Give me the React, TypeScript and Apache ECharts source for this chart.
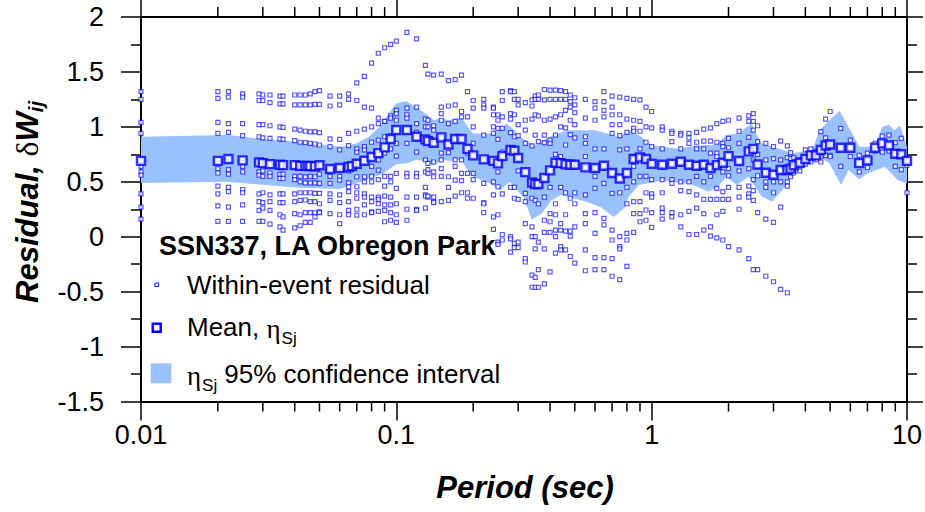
import React, { useEffect, useRef } from 'react';
import * as echarts from 'echarts';

// ---------------- data ----------------
const xTickLabels = ['0.01', '0.1', '1', '10'];
const minorTickPeriods = [0.02, 0.03, 0.04, 0.05, 0.06, 0.07, 0.08, 0.09, 0.2, 0.3, 0.4, 0.5, 0.6, 0.7, 0.8, 0.9, 2, 3, 4, 5, 6, 7, 8, 9];

const meanPeriods = [0.01, 0.02, 0.022, 0.025, 0.029, 0.03, 0.032, 0.035, 0.036, 0.04, 0.042, 0.044, 0.045, 0.046, 0.048, 0.05, 0.055, 0.06, 0.065, 0.067, 0.07, 0.075, 0.08, 0.085, 0.09, 0.095, 0.1, 0.11, 0.12, 0.13, 0.133, 0.14, 0.15, 0.16, 0.17, 0.18, 0.19, 0.2, 0.22, 0.24, 0.25, 0.26, 0.28, 0.29, 0.3, 0.32, 0.34, 0.35, 0.36, 0.38, 0.4, 0.42, 0.44, 0.46, 0.48, 0.5, 0.55, 0.6, 0.65, 0.7, 0.75, 0.8, 0.85, 0.9, 0.95, 1, 1.1, 1.2, 1.3, 1.4, 1.5, 1.6, 1.7, 1.8, 1.9, 2, 2.2, 2.4, 2.5, 2.6, 2.8, 3, 3.2, 3.4, 3.5, 3.6, 3.8, 4, 4.2, 4.4, 4.6, 4.8, 5, 5.5, 6, 6.5, 7, 7.5, 8, 8.5, 9, 9.5, 10];
const meanValues = [0.69, 0.69, 0.707, 0.695, 0.677, 0.67, 0.661, 0.655, 0.652, 0.652, 0.645, 0.645, 0.645, 0.643, 0.64, 0.65, 0.617, 0.625, 0.634, 0.643, 0.664, 0.691, 0.725, 0.761, 0.813, 0.889, 0.971, 0.971, 0.91, 0.886, 0.87, 0.855, 0.904, 0.84, 0.89, 0.89, 0.8, 0.74, 0.704, 0.69, 0.668, 0.734, 0.789, 0.782, 0.716, 0.588, 0.494, 0.479, 0.48, 0.534, 0.604, 0.673, 0.67, 0.66, 0.655, 0.655, 0.631, 0.625, 0.646, 0.58, 0.53, 0.58, 0.707, 0.722, 0.707, 0.664, 0.655, 0.664, 0.682, 0.655, 0.646, 0.655, 0.625, 0.652, 0.673, 0.734, 0.689, 0.777, 0.8, 0.658, 0.582, 0.564, 0.607, 0.607, 0.62, 0.65, 0.673, 0.707, 0.74, 0.74, 0.79, 0.83, 0.84, 0.81, 0.81, 0.67, 0.695, 0.81, 0.85, 0.83, 0.755, 0.75, 0.69];

const bandUpperPeriods = [0.01, 0.022, 0.03, 0.042, 0.06, 0.065, 0.07, 0.078, 0.085, 0.0995, 0.109, 0.119, 0.134, 0.14, 0.15, 0.16, 0.175, 0.18, 0.19, 0.2, 0.233, 0.255, 0.27, 0.29, 0.3, 0.33, 0.35, 0.38, 0.405, 0.47, 0.6, 0.74, 0.83, 0.91, 1.0, 1.27, 1.5, 1.72, 1.82, 1.96, 2.18, 2.46, 2.54, 2.7, 2.96, 3.15, 3.56, 4.27, 4.53, 4.97, 5.45, 6.0, 6.5, 7.5, 8.0, 8.5, 8.9, 9.4, 10];
const bandUpper = [0.91, 0.925, 0.89, 0.864, 0.82, 0.83, 0.85, 0.91, 0.99, 1.21, 1.235, 1.18, 1.1, 1.06, 1.08, 1.06, 1.08, 1.09, 1.0, 0.94, 0.94, 0.97, 1.03, 0.97, 0.92, 0.865, 0.83, 0.88, 0.92, 0.97, 0.97, 0.91, 0.97, 0.91, 0.83, 0.8, 0.83, 0.835, 0.85, 0.926, 0.94, 1.03, 0.956, 0.85, 0.82, 0.8, 0.76, 0.79, 0.97, 1.06, 1.147, 0.97, 0.82, 0.82, 1.0, 1.02, 0.97, 1.01, 0.82];
const bandLowerPeriods = [0.01, 0.0216, 0.0405, 0.06, 0.073, 0.088, 0.1, 0.11, 0.12, 0.13, 0.14, 0.15, 0.165, 0.18, 0.19, 0.2, 0.233, 0.255, 0.278, 0.315, 0.339, 0.37, 0.405, 0.44, 0.55, 0.63, 0.71, 0.79, 0.81, 0.89, 1.09, 1.42, 1.67, 1.82, 1.96, 2.15, 2.4, 2.54, 2.7, 2.96, 3.25, 3.56, 4.0, 4.53, 4.97, 5.52, 5.9, 6.5, 7.0, 8.2, 9.2, 10];
const bandLower = [0.49, 0.5, 0.449, 0.434, 0.5, 0.57, 0.66, 0.668, 0.7, 0.685, 0.65, 0.7, 0.69, 0.7, 0.607, 0.545, 0.485, 0.424, 0.5, 0.36, 0.157, 0.21, 0.333, 0.38, 0.32, 0.27, 0.18, 0.27, 0.36, 0.47, 0.51, 0.48, 0.41, 0.455, 0.546, 0.47, 0.546, 0.455, 0.364, 0.32, 0.425, 0.546, 0.637, 0.728, 0.667, 0.47, 0.607, 0.522, 0.576, 0.637, 0.516, 0.485];

const scatterPeriods = [0.01, 0.02, 0.022, 0.025, 0.029, 0.03, 0.032, 0.035, 0.036, 0.04, 0.042, 0.044, 0.046, 0.048, 0.05, 0.055, 0.06, 0.065, 0.07, 0.075, 0.08, 0.085, 0.09, 0.095, 0.1, 0.11, 0.12, 0.13, 0.133, 0.14, 0.15, 0.16, 0.17, 0.18, 0.19, 0.2, 0.22, 0.24, 0.25, 0.26, 0.28, 0.29, 0.3, 0.32, 0.34, 0.35, 0.36, 0.38, 0.4, 0.42, 0.44, 0.46, 0.48, 0.5, 0.55, 0.6, 0.65, 0.7, 0.75, 0.8, 0.85, 0.9, 0.95, 1, 1.1, 1.2, 1.3, 1.4, 1.5, 1.6, 1.7, 1.8, 1.9, 2, 2.2, 2.4, 2.5, 2.6, 2.8, 3, 3.2, 3.4, 3.5, 3.6, 3.8, 4, 4.2, 4.4, 4.6, 4.8, 5, 5.5, 6, 6.5, 7, 7.5, 8, 8.5, 9, 9.5, 10];
const residuals: number[][] = [
  [1.32, 1.25, 1.04, 0.94, 0.69, 0.64, 0.59, 0.56, 0.39, 0.27, 0.16],
  [1.32, 1.26, 1.04, 0.94, 0.7, 0.62, 0.58, 0.46, 0.39, 0.28, 0.14],
  [1.32, 1.27, 1.03, 0.95, 0.72, 0.61, 0.57, 0.45, 0.41, 0.27, 0.14],
  [1.3, 1.27, 1.03, 0.92, 0.71, 0.64, 0.59, 0.43, 0.4, 0.29, 0.14],
  [1.3, 1.24, 1.02, 0.91, 0.68, 0.59, 0.56, 0.39, 0.32, 0.24, 0.14],
  [1.29, 1.24, 1.02, 0.9, 0.67, 0.6, 0.55, 0.4, 0.31, 0.26, 0.14],
  [1.29, 1.22, 1.01, 0.895, 0.66, 0.58, 0.55, 0.38, 0.32, 0.24, 0.115],
  [1.28, 1.21, 1.0, 0.89, 0.66, 0.57, 0.53, 0.39, 0.31, 0.2, 0.09],
  [1.28, 1.21, 0.995, 0.886, 0.655, 0.57, 0.53, 0.39, 0.31, 0.18, 0.06],
  [1.29, 1.2, 0.98, 0.874, 0.65, 0.55, 0.52, 0.39, 0.32, 0.21, 0.08],
  [1.29, 1.2, 0.97, 0.86, 0.645, 0.55, 0.5, 0.4, 0.33, 0.2, 0.1],
  [1.29, 1.2, 0.96, 0.856, 0.645, 0.545, 0.49, 0.4, 0.334, 0.22, 0.13],
  [1.3, 1.2, 0.955, 0.85, 0.64, 0.55, 0.49, 0.4, 0.32, 0.22, 0.13],
  [1.32, 1.205, 0.955, 0.844, 0.64, 0.546, 0.49, 0.394, 0.32, 0.218, 0.18],
  [1.33, 1.205, 0.947, 0.835, 0.65, 0.57, 0.485, 0.394, 0.3, 0.227, 0.22],
  [1.28, 1.19, 0.89, 0.82, 0.62, 0.55, 0.485, 0.39, 0.33, 0.21],
  [1.28, 1.2, 0.886, 0.79, 0.63, 0.55, 0.516, 0.38, 0.31, 0.2, 0.12],
  [1.3, 1.25, 0.94, 0.83, 0.6, 0.49, 0.455, 0.41, 0.32, 0.24, 0.2],
  [1.4, 1.24, 0.96, 0.8, 0.77, 0.546, 0.455, 0.4, 0.35, 0.25, 0.197],
  [1.46, 1.18, 0.98, 0.82, 0.79, 0.546, 0.5, 0.39, 0.36, 0.29, 0.2],
  [1.58, 1.17, 1.0, 0.86, 0.64, 0.55, 0.5, 0.36, 0.32, 0.227, 0.22],
  [1.67, 1.08, 1.03, 0.88, 0.7, 0.607, 0.52, 0.36, 0.34, 0.3, 0.23],
  [1.72, 1.05, 1.05, 0.91, 0.76, 0.55, 0.46, 0.37, 0.29, 0.24, 0.136],
  [1.75, 1.1, 1.08, 0.92, 0.8, 0.55, 0.5, 0.36, 0.29, 0.22, 0.15],
  [1.78, 1.15, 1.12, 1.06, 0.85, 0.734, 0.577, 0.44, 0.3, 0.2, 0.13],
  [1.86, 1.17, 1.11, 1.08, 0.85, 0.577, 0.546, 0.36, 0.25, 0.15],
  [1.8, 1.18, 1.03, 0.95, 0.77, 0.577, 0.546, 0.36, 0.248, 0.24],
  [1.56, 1.07, 1.0, 0.9, 0.7, 0.59, 0.45, 0.38, 0.37, 0.26],
  [1.48, 1.06, 1.0, 0.88, 0.667, 0.61, 0.577, 0.36, 0.37],
  [1.47, 1.01, 0.97, 0.85, 0.68, 0.59, 0.546, 0.36, 0.32, 0.31],
  [1.48, 1.18, 1.12, 1.06, 0.9, 0.76, 0.7, 0.62, 0.55, 0.32],
  [1.42, 1.19, 1.03, 0.84, 0.765, 0.546, 0.45, 0.33],
  [1.43, 1.2, 1.05, 0.89, 0.7, 0.64, 0.516, 0.37],
  [1.47, 1.14, 1.09, 0.89, 0.7, 0.577, 0.51, 0.4],
  [1.32, 1.09, 0.8, 0.76, 0.577, 0.4, 0.35],
  [1.24, 1.17, 1.0, 0.85, 0.74, 0.577, 0.52, 0.35],
  [1.25, 1.2, 1.17, 0.925, 0.7, 0.485, 0.31, 0.3, 0.22],
  [1.18, 1.17, 1.11, 1.0, 0.94, 0.69, 0.5, 0.38, 0.18, 0.066],
  [1.11, 1.06, 0.986, 0.886, 0.668, 0.59, 0.455, 0.2, -0.05, -0.07],
  [1.32, 1.24, 1.09, 0.986, 0.77, 0.734, 0.39, 0.02, -0.03],
  [1.33, 1.32, 1.12, 1.07, 0.947, 0.789, 0.45, 0.0, -0.02, -0.14],
  [1.32, 1.25, 1.11, 0.91, 0.782, 0.45, 0.35, -0.06, -0.1],
  [1.25, 1.2, 1.02, 0.92, 0.716, 0.6, 0.34, -0.05, -0.1],
  [1.22, 1.06, 0.97, 0.85, 0.588, 0.394, 0.32, 0.12, -0.2, -0.23],
  [1.245, 1.19, 1.07, 0.826, 0.494, 0.35, 0.09, 0.0, -0.35, -0.46],
  [1.28, 1.25, 1.11, 0.925, 0.479, 0.33, 0.0, -0.11, -0.37, -0.46],
  [1.29, 1.25, 1.1, 0.865, 0.48, 0.3, -0.05, -0.3, -0.46],
  [1.34, 1.245, 1.06, 0.925, 0.856, 0.534, 0.36, 0.15, 0.04, -0.11, -0.43],
  [1.335, 1.25, 1.07, 0.88, 0.85, 0.604, 0.45, 0.21, 0.136, 0.04, -0.32],
  [1.335, 1.25, 1.09, 0.925, 0.75, 0.673, 0.3, 0.2, 0.06, 0.0, -0.15],
  [1.33, 1.25, 1.11, 1.0, 0.73, 0.67, 0.45, 0.12, 0.06, -0.09, -0.12],
  [1.32, 1.25, 1.15, 0.99, 0.835, 0.66, 0.4, 0.2, 0.05, -0.12],
  [1.29, 1.23, 1.18, 1.06, 0.93, 0.655, 0.35, 0.05, 0.005, -0.18],
  [1.265, 1.2, 1.13, 1.02, 0.9, 0.655, 0.4, 0.3, 0.09, -0.24],
  [1.25, 1.08, 0.91, 0.85, 0.73, 0.631, 0.38, 0.21, 0.12, -0.12, -0.31],
  [1.23, 1.17, 1.06, 0.8, 0.625, 0.55, 0.44, 0.22, 0.03, -0.19, -0.3],
  [1.32, 1.23, 1.15, 1.09, 0.8, 0.646, 0.485, 0.167, 0.107, -0.19, -0.3],
  [1.28, 1.18, 1.11, 1.02, 0.94, 0.58, 0.394, 0.06, -0.03, -0.2, -0.36],
  [1.27, 1.11, 1.02, 0.92, 0.79, 0.53, 0.4, 0.0, -0.09, -0.11, -0.39],
  [1.26, 1.07, 0.95, 0.8, 0.58, 0.45, 0.3, 0.03, -0.03, -0.27],
  [1.25, 1.06, 0.986, 0.96, 0.73, 0.707, 0.64, 0.5, 0.32, 0.21, 0.04],
  [1.245, 1.05, 0.96, 0.8, 0.722, 0.55, 0.32, 0.21, 0.136],
  [1.18, 1.0, 0.86, 0.707, 0.55, 0.4, 0.243, 0.15],
  [1.14, 0.99, 0.82, 0.664, 0.52, 0.39, 0.36, 0.22, 0.085],
  [1.0, 0.97, 0.8, 0.655, 0.52, 0.4, 0.26, 0.22, 0.16],
  [0.96, 0.94, 0.865, 0.664, 0.52, 0.485, 0.22, 0.18],
  [0.94, 0.925, 0.8, 0.682, 0.5, 0.42, 0.2, 0.09],
  [0.94, 0.9, 0.85, 0.655, 0.5, 0.41, 0.23, 0.02],
  [0.95, 0.86, 0.8, 0.646, 0.55, 0.38, 0.26, 0.02],
  [0.98, 0.87, 0.8, 0.655, 0.5, 0.34, 0.21, 0.06],
  [0.99, 0.87, 0.76, 0.625, 0.55, 0.34, 0.09, 0.005],
  [1.03, 0.86, 0.76, 0.73, 0.652, 0.44, 0.34, 0.2, -0.01],
  [1.05, 0.85, 0.82, 0.673, 0.59, 0.41, 0.34, 0.23, -0.03],
  [1.06, 0.895, 0.81, 0.734, 0.62, 0.555, 0.45, 0.34, -0.09],
  [1.08, 0.96, 0.85, 0.689, 0.6, 0.45, 0.36, 0.25, -0.12],
  [1.1, 1.05, 0.905, 0.777, 0.62, 0.46, 0.39, 0.36, -0.2],
  [1.12, 1.05, 0.97, 0.8, 0.7, 0.52, 0.42, 0.33, -0.3],
  [1.01, 0.865, 0.75, 0.658, 0.64, 0.555, 0.22, -0.3],
  [0.85, 0.7, 0.582, 0.5, 0.45, 0.16, -0.36],
  [0.82, 0.71, 0.564, 0.5, 0.4, 0.13, -0.41],
  [0.87, 0.7, 0.607, 0.5, 0.27, -0.48],
  [0.826, 0.72, 0.607, 0.5, 0.46, -0.51],
  [0.765, 0.71, 0.62, 0.546],
  [0.72, 0.65, 0.58],
  [0.7, 0.673, 0.6],
  [0.79, 0.73, 0.66],
  [0.8, 0.74, 0.68],
  [0.78, 0.74, 0.7],
  [0.956, 0.79, 0.73, 0.68],
  [1.07, 0.9, 0.83, 0.74],
  [1.14, 0.84, 0.74, 0.73],
  [0.986, 0.81, 0.64],
  [0.88, 0.81, 0.73],
  [0.74, 0.67, 0.59],
  [0.76, 0.695, 0.63],
  [0.85, 0.78],
  [0.916, 0.85, 0.77],
  [0.925, 0.83, 0.78],
  [0.856, 0.755, 0.64],
  [0.895, 0.75, 0.61],
  [0.69, 0.65, 0.4],
];

// ---------------- styling ----------------
const SANS = '"Liberation Sans", Arial, Helvetica, sans-serif';
const SERIF = '"Liberation Serif", "DejaVu Serif", serif';
const BAND_COLOR = '#99c0ff';
const MEAN_COLOR = '#0000ff';
const DOT_COLOR = 'rgba(10,10,255,0.85)';

function measure(text: string, font: string): number {
  const ctx = document.createElement('canvas').getContext('2d');
  if (!ctx) return text.length * 10;
  ctx.font = font;
  return ctx.measureText(text).width;
}

export default function App() {
  const ref = useRef<HTMLDivElement>(null);

  useEffect(() => {
    document.body.style.margin = '0';
    if (!ref.current) return;
    const chart = echarts.init(ref.current, undefined, { renderer: 'svg' });

    const scatterData: number[][] = [];
    scatterPeriods.forEach((t, i) => {
      residuals[i].forEach((v) => scatterData.push([t, v]));
    });
    const meanData = meanPeriods.map((t, i) => [t, meanValues[i]]);

    // ---- y-axis title pieces ----
    const fT = `italic bold 31px ${SANS}`;
    const fD = `32px ${SERIF}`;
    const fS = `italic bold 20px ${SANS}`;
    const w1 = measure('Residual, ', fT);
    const w2 = measure('δ', fD);
    const w3 = measure('W', fT);
    const w4 = measure('ij', fS);
    const totalY = w1 + w2 + w3 + w4;
    const yTitleX = 27;
    const yTitleStart = 202 + totalY / 2;

    // ---- legend pieces ----
    const fL = `26px ${SANS}`;
    const fG = `27px ${SERIF}`;
    const fSub = `17px ${SANS}`;
    const legX = 187;
    const wMean = measure('Mean, ', fL);
    const wEta = measure('η', fG);
    const wSj = measure('Sj', fSub);

    const option: any = {
      animation: false,
      grid: { left: 141, right: 15, top: 17, bottom: 110.5, containLabel: false },
      xAxis: [
        {
          type: 'log', logBase: 10, min: 0.01, max: 10, position: 'bottom',
          axisLine: { show: true, onZero: false, lineStyle: { color: '#000', width: 2 } },
          axisTick: { show: true, inside: false, length: 19, lineStyle: { color: '#000', width: 1.5 } },
          axisLabel: {
            show: true, margin: 20, fontSize: 27, color: '#000', fontFamily: SANS,
            formatter: (v: number) => xTickLabels[Math.round(Math.log10(v)) + 2],
          },
          splitLine: { show: false },
          minorTick: { show: false },
        },
        {
          type: 'log', logBase: 10, min: 0.01, max: 10, position: 'top',
          axisLine: { show: true, onZero: false, lineStyle: { color: '#000', width: 2 } },
          axisTick: { show: true, inside: false, length: 17, lineStyle: { color: '#000', width: 1.5 } },
          axisLabel: { show: false },
          splitLine: { show: false },
        },
      ],
      yAxis: [
        {
          type: 'value', min: -1.5, max: 2, interval: 0.5, position: 'left',
          axisLine: { show: true, onZero: false, lineStyle: { color: '#000', width: 2 } },
          axisTick: { show: true, inside: false, length: 20, lineStyle: { color: '#000', width: 1.5 } },
          minorTick: { show: true, splitNumber: 2, length: 10, lineStyle: { color: '#000', width: 1.5 } },
          axisLabel: { show: true, margin: 37, fontSize: 27, color: '#000', fontFamily: SANS },
          splitLine: { show: false },
        },
        {
          type: 'value', min: -1.5, max: 2, interval: 0.5, position: 'right',
          axisLine: { show: true, onZero: false, lineStyle: { color: '#000', width: 2 } },
          axisTick: { show: true, inside: false, length: 16, lineStyle: { color: '#000', width: 1.5 } },
          minorTick: { show: true, splitNumber: 2, length: 10, lineStyle: { color: '#000', width: 1.5 } },
          axisLabel: { show: false },
          splitLine: { show: false },
        },
      ],
      series: [
        {
          type: 'custom',
          name: 'band',
          xAxisIndex: 0, yAxisIndex: 0,
          z: 1,
          silent: true,
          data: [[bandUpperPeriods[0], bandUpper[0]]],
          renderItem: (params: any, api: any) => {
            if (params.dataIndex !== 0) return null;
            const pts: number[][] = [];
            bandUpperPeriods.forEach((t, i) => pts.push(api.coord([t, bandUpper[i]])));
            for (let i = bandLowerPeriods.length - 1; i >= 0; i--) {
              pts.push(api.coord([bandLowerPeriods[i], bandLower[i]]));
            }
            return { type: 'polygon', shape: { points: pts }, style: { fill: BAND_COLOR, stroke: 'none' } };
          },
        },
        {
          type: 'scatter',
          name: 'Within-event residual',
          z: 2,
          symbol: 'rect',
          symbolSize: 4,
          itemStyle: { color: '#ffffff', borderColor: DOT_COLOR, borderWidth: 1.2 },
          data: scatterData,
        },
        {
          type: 'scatter',
          name: 'Mean',
          z: 3,
          symbol: 'rect',
          symbolSize: 8,
          itemStyle: { color: '#ffffff', borderColor: MEAN_COLOR, borderWidth: 2.4 },
          data: meanData,
        },
        {
          type: 'custom',
          name: 'minorTicks',
          xAxisIndex: 0, yAxisIndex: 0,
          z: 5,
          silent: true,
          clip: false,
          data: minorTickPeriods.map((t) => [t, -1.5]),
          renderItem: (params: any, api: any) => {
            const t = api.value(0);
            const b = api.coord([t, -1.5]);
            const tp = api.coord([t, 2]);
            const st = { stroke: '#000', lineWidth: 1.5 };
            return {
              type: 'group',
              children: [
                { type: 'line', shape: { x1: b[0], y1: b[1], x2: b[0], y2: b[1] + 10 }, style: st },
                { type: 'line', shape: { x1: tp[0], y1: tp[1], x2: tp[0], y2: tp[1] - 10 }, style: st },
              ],
            };
          },
        },
      ],
      graphic: [
        // x-axis title
        {
          type: 'text', x: 525, y: 487, z: 10,
          style: { text: 'Period (sec)', font: `italic bold 31px ${SANS}`, fill: '#000', align: 'center', verticalAlign: 'middle' },
        },
        // y-axis title
        {
          type: 'group', x: yTitleX, y: yTitleStart, rotation: Math.PI / 2, z: 10,
          children: [
            { type: 'text', x: 0, y: 0, style: { text: 'Residual, ', font: fT, fill: '#000', align: 'left', verticalAlign: 'middle' } },
            { type: 'text', x: w1, y: 0, style: { text: 'δ', font: fD, fill: '#000', align: 'left', verticalAlign: 'middle' } },
            { type: 'text', x: w1 + w2, y: 0, style: { text: 'W', font: fT, fill: '#000', align: 'left', verticalAlign: 'middle' } },
            { type: 'text', x: w1 + w2 + w3, y: 9, style: { text: 'ij', font: fS, fill: '#000', align: 'left', verticalAlign: 'middle' } },
          ],
        },
        // legend title
        {
          type: 'text', x: 159, y: 246, z: 10,
          style: { text: 'SSN337, LA Obregon Park', font: `bold 27px ${SANS}`, fill: '#000', align: 'left', verticalAlign: 'middle' },
        },
        // legend: residual marker
        {
          type: 'rect', z: 10, shape: { x: 155, y: 283, width: 3.5, height: 3.5 },
          style: { fill: '#fff', stroke: DOT_COLOR, lineWidth: 1.2 },
        },
        {
          type: 'text', x: legX, y: 285, z: 10,
          style: { text: 'Within-event residual', font: fL, fill: '#000', align: 'left', verticalAlign: 'middle' },
        },
        // legend: mean marker
        {
          type: 'rect', z: 10, shape: { x: 152.7, y: 323.7, width: 8, height: 8 },
          style: { fill: '#fff', stroke: MEAN_COLOR, lineWidth: 2.4 },
        },
        {
          type: 'text', x: legX, y: 327, z: 10,
          style: { text: 'Mean, ', font: fL, fill: '#000', align: 'left', verticalAlign: 'middle' },
        },
        {
          type: 'text', x: legX + wMean, y: 329, z: 10,
          style: { text: 'η', font: fG, fill: '#000', align: 'left', verticalAlign: 'middle' },
        },
        {
          type: 'text', x: legX + wMean + wEta + 1, y: 338, z: 10,
          style: { text: 'Sj', font: fSub, fill: '#000', align: 'left', verticalAlign: 'middle' },
        },
        // legend: band
        {
          type: 'rect', z: 10, shape: { x: 150.7, y: 363.3, width: 20.6, height: 20 },
          style: { fill: BAND_COLOR },
        },
        {
          type: 'text', x: legX, y: 376, z: 10,
          style: { text: 'η', font: fG, fill: '#000', align: 'left', verticalAlign: 'middle' },
        },
        {
          type: 'text', x: legX + wEta + 1, y: 385, z: 10,
          style: { text: 'Sj', font: fSub, fill: '#000', align: 'left', verticalAlign: 'middle' },
        },
        {
          type: 'text', x: legX + wEta + wSj + 8, y: 374, z: 10,
          style: { text: '95% confidence interval', font: fL, fill: '#000', align: 'left', verticalAlign: 'middle' },
        },
      ],
    };

    chart.setOption(option);
    return () => chart.dispose();
  }, []);

  return <div ref={ref} style={{ width: 925, height: 512 }} />;
}
